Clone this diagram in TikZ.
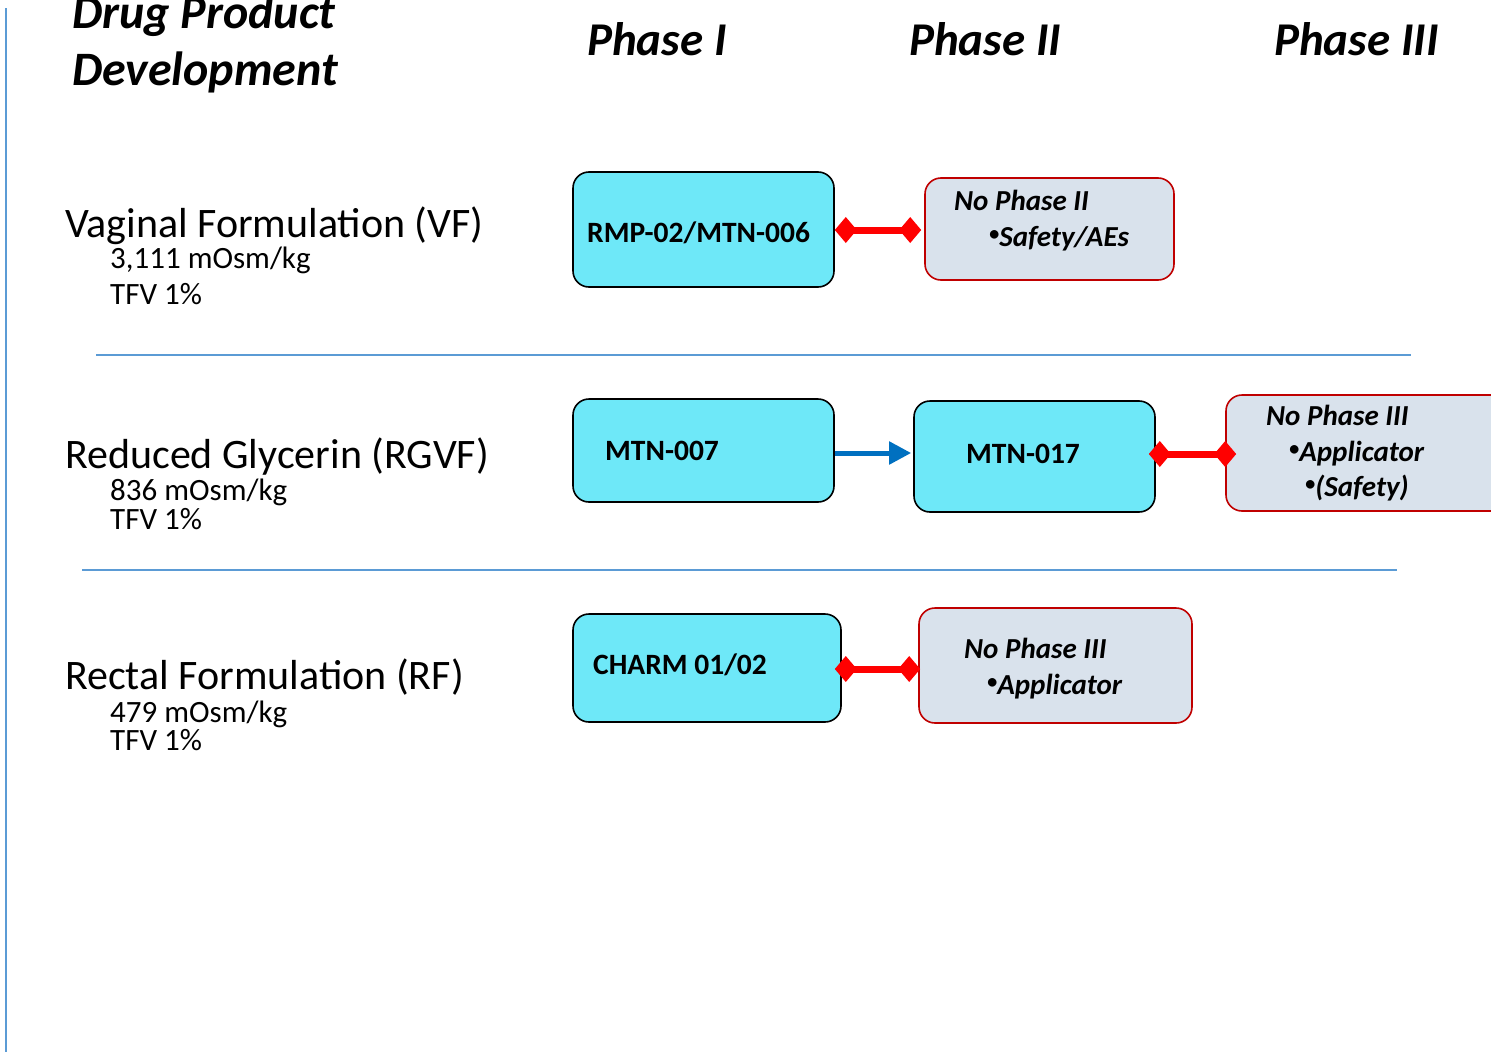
\documentclass[tikz,border=0pt]{standalone}
\usepackage{fontspec}
\setmainfont{Carlito}
\usetikzlibrary{arrows.meta}
\definecolor{cyanbox}{HTML}{6EE8F8}
\definecolor{graybox}{HTML}{D9E2EC}
\definecolor{darkred}{HTML}{C00000}
\definecolor{sepblue}{HTML}{5B9BD5}
\definecolor{arrblue}{HTML}{0070C0}
\newcommand{\smbul}{\raisebox{0.18em}{\scalebox{0.7}{\textbullet}}}
\tikzset{
  phasebox/.style={draw=black,line width=1.6pt,fill=cyanbox,rounded corners=16pt,inner sep=0pt},
  nobox/.style={draw=darkred,line width=1.6pt,fill=graybox,rounded corners=16pt,inner sep=0pt},
  redcon/.style={draw=red,line width=7pt,{Diamond[length=22pt,width=26pt]}-{Diamond[length=22pt,width=26pt]}},
  bluecon/.style={draw=arrblue,line width=5pt,-{Triangle[length=22pt,width=22pt]}},
  sepline/.style={draw=sepblue,line width=1.2pt},
  txt/.style={anchor=base west,inner sep=0pt},
  rowlab/.style={txt,font=\fontsize{42}{48}\selectfont},
  sublab/.style={txt,font=\fontsize{31}{36}\selectfont},
  boxtxt/.style={txt,font=\fontsize{29.5}{34}\selectfont\bfseries},
  notxt/.style={txt,font=\fontsize{29}{34}\selectfont\bfseries\itshape},
  phasetxt/.style={txt,font=\fontsize{47}{56}\selectfont\bfseries\itshape},
  titletxt/.style={txt,font=\fontsize{48}{56}\selectfont\bfseries\itshape},
}
\begin{document}
\begin{tikzpicture}[x=1pt,y=-1pt]
\useasboundingbox[fill=white] (0,0) rectangle (1491,1052);
% left vertical line
\draw[sepblue,line width=1.2pt] (6,8) -- (6,1052);
% title
\node[titletxt] (t1) at (72,28) {Drug Product};
\node[titletxt] (t2) at (72,85) {Development};
% phase headers
\node[phasetxt] (p1) at (587,55) {Phase I};
\node[phasetxt] (p2) at (909,55) {Phase II};
\node[phasetxt] (p3) at (1274,55) {Phase III};
% row labels
\node[rowlab] (r1) at (65,237) {Vaginal Formulation (VF)};
\node[sublab] (r1a) at (110,268) {3,111 mOsm/kg};
\node[sublab] (r1b) at (110,304) {TFV 1\%};
\node[rowlab] (r2) at (65,468) {Reduced Glycerin (RGVF)};
\node[sublab] (r2a) at (110,500) {836 mOsm/kg};
\node[sublab] (r2b) at (110,529) {TFV 1\%};
\node[rowlab] (r3) at (65,689) {Rectal Formulation (RF)};
\node[sublab] (r3a) at (110,722) {479 mOsm/kg};
\node[sublab] (r3b) at (110,750) {TFV 1\%};
% separators
\coordinate (s1a) at (96,355); \coordinate (s1b) at (1411,355);
\coordinate (s2a) at (82,570); \coordinate (s2b) at (1397,570);
\draw[sepline] (s1a) -- (s1b);
\draw[sepline] (s2a) -- (s2b);
% boxes row 1
\node[phasebox,minimum width=261pt,minimum height=115pt] (rmp) at (703.5,229.5) {};
\node[nobox,minimum width=249pt,minimum height=102pt] (np2) at (1049.5,229) {};
% boxes row 2
\node[phasebox,minimum width=261pt,minimum height=103pt] (m7) at (703.5,450.5) {};
\node[phasebox,minimum width=241pt,minimum height=111pt] (m17) at (1034.5,456.5) {};
\node[nobox,minimum width=290pt,minimum height=116pt] (np3a) at (1371,453) {};
% boxes row 3
\node[phasebox,minimum width=268pt,minimum height=108pt] (ch) at (707,668) {};
\node[nobox,minimum width=273pt,minimum height=115pt] (np3b) at (1055.5,665.5) {};
% connectors
\draw[redcon] (rmp.east |- 0,230) -- ([xshift=-3pt]np2.west |- 0,230);
\draw[bluecon] (m7.east |- 0,453) -- ([xshift=-2pt]m17.west |- 0,453);
\draw[redcon] ([xshift=-7pt]m17.east |- 0,454) -- ([xshift=11pt]np3a.west |- 0,454);
\draw[redcon] ([xshift=-7pt]ch.east |- 0,669) -- ([xshift=2pt]np3b.west |- 0,669);
% box texts
\node[boxtxt] at (587,242) {RMP-02/MTN-006};
\node[notxt] at (954,210) {No Phase II};
\node[notxt] at (989,246) {\smbul Safety/AEs};
\node[boxtxt] at (605,460) {MTN-007};
\node[boxtxt] at (966,463) {MTN-017};
\node[notxt] at (1266,425) {No Phase III};
\node[notxt] at (1289,461) {\smbul Applicator};
\node[notxt] at (1305,496) {\smbul(Safety)};
\node[boxtxt] at (593,674) {CHARM 01/02};
\node[notxt] at (964,658) {No Phase III};
\node[notxt] at (987,694) {\smbul Applicator};
\end{tikzpicture}
\end{document}
